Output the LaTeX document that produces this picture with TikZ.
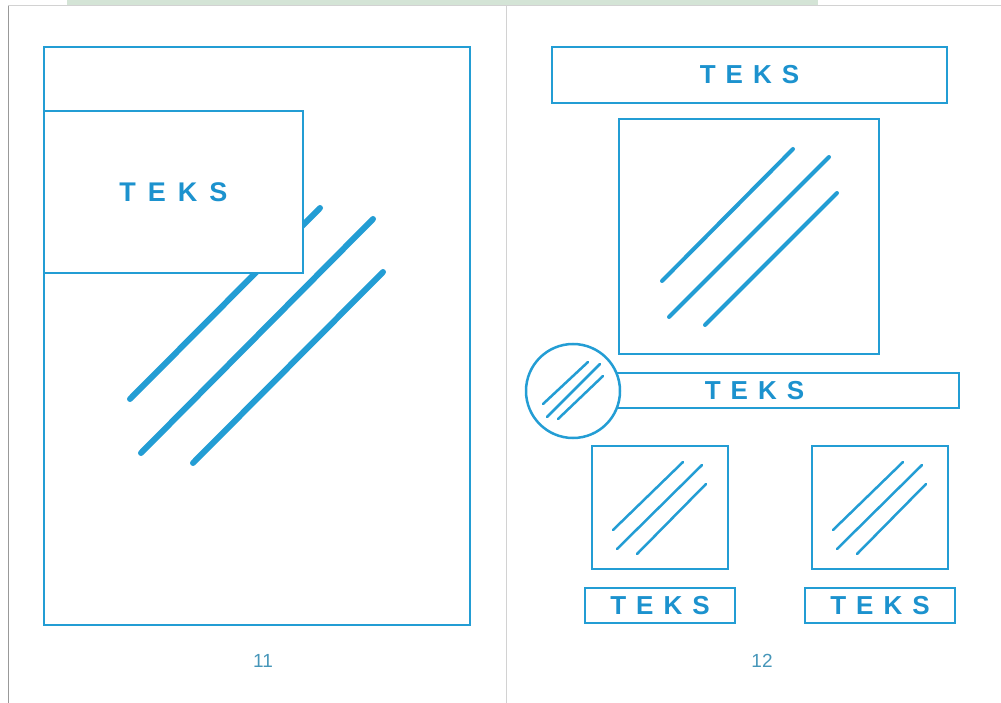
\documentclass[tikz,border=0pt]{standalone}
\usepackage{fontspec}
\setmainfont{Liberation Sans}
\definecolor{cyanline}{RGB}{35,157,212}
\definecolor{tekscol}{RGB}{28,146,206}
\definecolor{numcol}{RGB}{70,150,185}
\definecolor{wmark}{RGB}{212,228,214}
\newcommand{\teks}[1][10pt]{T\hspace{#1}E\hspace{#1}K\hspace{#1}S}

\begin{document}
\begin{tikzpicture}[x=1pt, y=-1pt,
  frame/.style={draw=cyanline, line width=2.5pt, inner sep=0pt},
  panel/.style={frame, fill=white, text=tekscol, font=\fontsize{26}{26}\selectfont\bfseries},
  stripe/.style={draw=cyanline, line cap=round},
  edge/.style={draw=gray!35, line width=1pt},
  pagenum/.style={text=numcol, font=\fontsize{19}{19}\selectfont}]
  \useasboundingbox (0,0) rectangle (1001,703);
  \fill[wmark] (67,0) rectangle (818,6);
  \draw[edge] (8,6) -- (1001,6);
  \draw[edge, draw=gray!80] (8,6) -- (8,703);
  \draw[edge] (506,6) -- (506,703);

  \node[frame, minimum width=426pt, minimum height=578pt] (pageL) at (257,336) {};
  \foreach \xa/\ya/\xb/\yb in {130/399/320/208, 141/453/373/219, 193/463/383/272}
    \draw[stripe, line width=6pt] (\xa,\ya) -- (\xb,\yb);
  \node[panel, minimum width=259pt, minimum height=162pt,
        font=\fontsize{27}{27}\selectfont\bfseries] (txtL) at (173.5,192) {\teks[12pt]};
  \node[pagenum] (numL) at (263,661) {11};

  \node[panel, minimum width=395pt, minimum height=56pt] (headR) at (749.5,75) {\teks};
  \node[frame, minimum width=260pt, minimum height=235pt] (picR) at (749,236.5) {};
  \foreach \xa/\ya/\xb/\yb in {662/281/793/149, 669/317/829/157, 705/325/837/193}
    \draw[stripe, line width=4pt] (\xa,\ya) -- (\xb,\yb);
  \node[panel, minimum width=409pt, minimum height=35pt] (capR) at (754.5,390.5) {\teks};
  \node[frame, circle, fill=white, minimum size=94pt] (badge) at (573,391) {};
  \foreach \xa/\ya/\xb/\yb in {543/404/588/362, 547/417/600/364, 558/419/603/376}
    \draw[stripe, line width=2.5pt] (\xa,\ya) -- (\xb,\yb);
  \foreach \dx/\nm in {0/L, 220/R} {
    \node[frame, minimum width=136pt, minimum height=123pt] (sq\nm) at (660+\dx,507.5) {};
    \draw[stripe, line width=2.5pt] (613+\dx,530) -- (683+\dx,462);
    \draw[stripe, line width=2.5pt] (617+\dx,549) -- (702+\dx,465);
    \draw[stripe, line width=2.5pt] (637+\dx,554) -- (706+\dx,484);
    \node[panel, minimum width=150pt, minimum height=35pt] (lab\nm) at (660+\dx,605.5) {\teks};
  }
  \node[pagenum] (numR) at (762,661) {12};
\end{tikzpicture}
\end{document}
